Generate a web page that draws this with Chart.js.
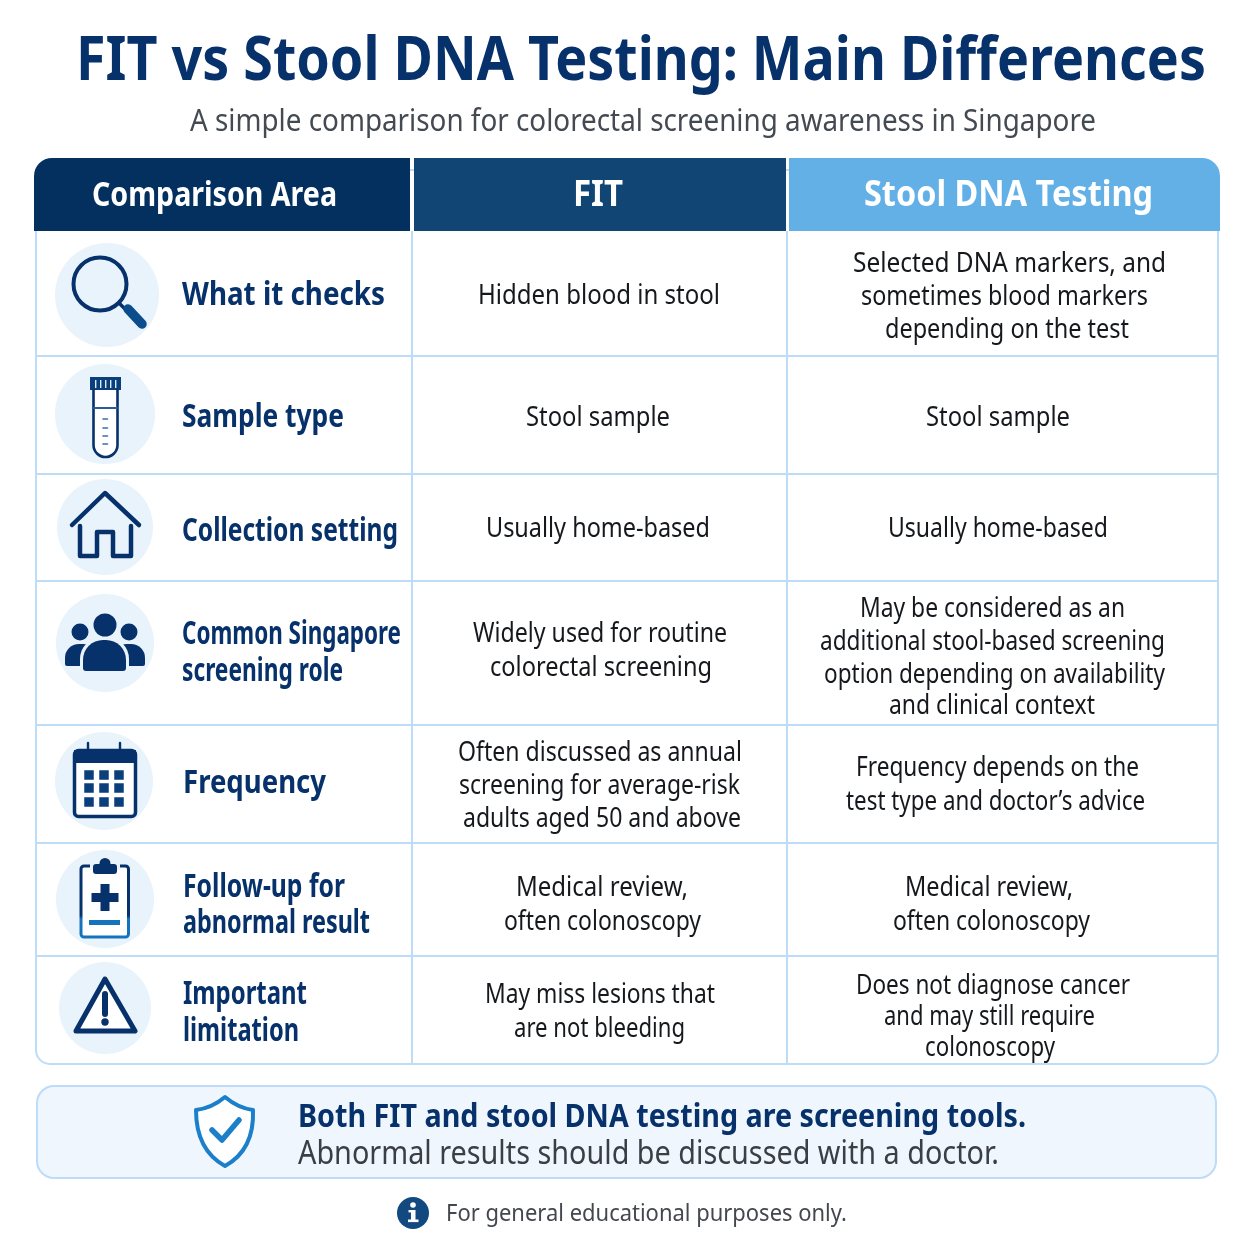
<!DOCTYPE html>
<html>
<head>
<meta charset="utf-8">
<title>FIT vs Stool DNA Testing</title>
<script src="https://cdn.jsdelivr.net/npm/chart.js@4"></script>
<style>
  html, body { margin: 0; padding: 0; background: #fff; }
  canvas { display: block; }
</style>
</head>
<body>
<canvas id="canvas" width="1254" height="1254"></canvas>
<script>
var chartTitle = "FIT vs Stool DNA Testing: Main Differences";
var chartSubtitle = "A simple comparison for colorectal screening awareness in Singapore";
var headers = ["Comparison Area", "FIT", "Stool DNA Testing"];
var areas = [
  ["What it checks"],
  ["Sample type"],
  ["Collection setting"],
  ["Common Singapore", "screening role"],
  ["Frequency"],
  ["Follow-up for", "abnormal result"],
  ["Important", "limitation"]
];
var fitCells = [
  ["Hidden blood in stool"],
  ["Stool sample"],
  ["Usually home-based"],
  ["Widely used for routine", "colorectal screening"],
  ["Often discussed as annual", "screening for average-risk", "adults aged 50 and above"],
  ["Medical review,", "often colonoscopy"],
  ["May miss lesions that", "are not bleeding"]
];
var dnaCells = [
  ["Selected DNA markers, and", "sometimes blood markers", "depending on the test"],
  ["Stool sample"],
  ["Usually home-based"],
  ["May be considered as an", "additional stool-based screening", "option depending on availability", "and clinical context"],
  ["Frequency depends on the", "test type and doctor\u2019s advice"],
  ["Medical review,", "often colonoscopy"],
  ["Does not diagnose cancer", "and may still require", "colonoscopy"]
];
var noteBold = "Both FIT and stool DNA testing are screening tools.";
var noteText = "Abnormal results should be discussed with a doctor.";
var footNote = "For general educational purposes only.";

// layout, in the 0-1254 units of the two hidden axes
var colEdges = [36, 412, 787, 1218];
var rowEdges = [231, 356, 474, 581, 725, 843, 956, 1064];
var areaLineY = [[294], [416], [530], [633, 670], [782], [886, 922], [993, 1030]];
var fitLineY = [[295], [417], [528], [633, 667], [752, 785, 818], [887, 921], [994, 1028]];
var dnaLineY = [[263, 296, 329], [417], [528], [608, 641, 674, 705], [767, 801], [887, 921], [985, 1016, 1047]];
var areaLineX = [182, 182, 182, 182, 183, 183, 183];
var fitCenterX = [[599], [598], [598], [600, 601], [600, 599.5, 602], [602, 602.5], [600, 599.5]];
var dnaCenterX = [[1009.5, 1004.5, 1007], [998], [998], [992.5, 992.5, 994.5, 992], [997.5, 995.5], [989, 991.5], [993, 989.5, 990]];
var areaWidths = [[203], [162], [216], [219, 161], [143], [162, 187], [124, 116]];
var fitWidths = [[242], [144], [224], [254, 222], [284, 281, 278], [172, 197], [230, 171]];
var dnaWidths = [[313, 287, 244], [144], [220], [265, 345, 341, 206], [283, 299], [168, 197], [274, 211, 130]];
var badges = [[107, 295, 52], [105, 414, 50], [105, 527, 48], [105, 643, 49], [104, 781, 49], [105, 899, 49], [105, 1008, 46]];

var NAVY = "#06316a";
var LINE = "#bcdcf8";
var FONT = '"Noto Sans"';
var TEXT_DROP = 2.5; // baseline "middle" sits a bit high for this font

var gridSets = [];
rowEdges.slice(1, -1).forEach(function (y) {
  gridSets.push({ data: [{ x: colEdges[0], y: y }, { x: colEdges[3], y: y }] });
});
colEdges.slice(1, 3).forEach(function (x) {
  gridSets.push({ data: [{ x: x, y: rowEdges[0] }, { x: x, y: rowEdges[7] }] });
});
gridSets.forEach(function (d) {
  d.showLine = true;
  d.borderColor = LINE;
  d.borderWidth = 2;
  d.pointRadius = 0;
});

function roundPath(ctx, x, y, w, h, tl, tr, br, bl) {
  ctx.beginPath();
  ctx.roundRect(x, y, w, h, [tl, tr, br, bl]);
}

// draws one line squeezed to the width it has in the reference
function text(ctx, s, x, y, font, color, align, width) {
  ctx.save();
  ctx.font = font;
  var sx = width / ctx.measureText(s).width;
  ctx.translate(x, y + TEXT_DROP);
  ctx.scale(sx, 1);
  ctx.fillStyle = color;
  ctx.textAlign = align;
  ctx.textBaseline = "middle";
  ctx.fillText(s, 0, 0);
  ctx.restore();
}

function line(ctx, pts, width, color, close) {
  ctx.beginPath();
  pts.forEach(function (p, i) {
    if (i === 0) ctx.moveTo(p[0], p[1]); else ctx.lineTo(p[0], p[1]);
  });
  if (close) ctx.closePath();
  ctx.lineWidth = width;
  ctx.strokeStyle = color;
  ctx.lineJoin = "round";
  ctx.lineCap = "round";
  ctx.stroke();
}

function dot(ctx, x, y, r, color) {
  ctx.beginPath();
  ctx.arc(x, y, r, 0, Math.PI * 2);
  ctx.fillStyle = color;
  ctx.fill();
}

function drawIcons(ctx) {
  // magnifier
  ctx.beginPath();
  ctx.arc(100, 284, 26.5, 0, Math.PI * 2);
  ctx.lineWidth = 4;
  ctx.strokeStyle = NAVY;
  ctx.stroke();
  line(ctx, [[119, 303], [126, 310]], 3.5, NAVY);
  line(ctx, [[128, 309], [142, 324]], 9.5, "#0b4c8c");

  // test tube
  ctx.fillStyle = "#0b3f7c";
  ctx.fillRect(90, 377, 31, 13);
  ctx.fillStyle = "#dcecfa";
  [95, 100, 105, 110, 115].forEach(function (x) { ctx.fillRect(x, 380, 1.4, 8); });
  ctx.beginPath();
  ctx.moveTo(93.5, 390);
  ctx.lineTo(93.5, 445);
  ctx.arc(105.5, 445, 12, Math.PI, 0, true);
  ctx.lineTo(117.5, 390);
  ctx.fillStyle = "#fff";
  ctx.fill();
  ctx.lineWidth = 2.6;
  ctx.strokeStyle = NAVY;
  ctx.stroke();
  line(ctx, [[94, 408], [117, 408]], 2, "#2c5d98");
  [419, 428, 436, 444].forEach(function (y) {
    line(ctx, [[103, y], [107.5, y]], 1.6, "#3f6ea8");
  });

  // house
  line(ctx, [[72, 525], [105, 493], [139, 525]], 4.5, NAVY);
  line(ctx, [[80, 526], [80, 556], [97, 556], [97, 532], [113, 532], [113, 556], [131, 556], [131, 526]], 4.5, NAVY);

  // people
  dot(ctx, 80, 632, 8.5, NAVY);
  dot(ctx, 129, 632, 8.5, NAVY);
  dot(ctx, 105, 625, 11.5, NAVY);
  roundPath(ctx, 65, 644, 32, 22, 14, 14, 2, 2);
  ctx.fillStyle = NAVY; ctx.fill();
  roundPath(ctx, 113, 644, 32, 22, 14, 14, 2, 2);
  ctx.fill();
  roundPath(ctx, 80, 637, 49, 37, 22, 22, 3, 3);
  ctx.fillStyle = "#e8f3fc"; ctx.fill();
  roundPath(ctx, 83, 640, 43, 31, 20, 20, 3, 3);
  ctx.fillStyle = NAVY; ctx.fill();

  // calendar
  roundPath(ctx, 74.5, 750.5, 61, 66, 4, 4, 4, 4);
  ctx.fillStyle = "#fff"; ctx.fill();
  ctx.lineWidth = 3.5; ctx.strokeStyle = NAVY; ctx.stroke();
  ctx.fillStyle = NAVY;
  ctx.fillRect(74, 750, 62, 13);
  line(ctx, [[88, 743], [88, 754]], 2.4, NAVY);
  line(ctx, [[120, 743], [120, 754]], 2.4, NAVY);
  ctx.fillStyle = "#0b3f7c";
  [89, 104, 119].forEach(function (x) {
    [775, 788, 802].forEach(function (y) {
      ctx.fillRect(x - 4.75, y - 4.75, 9.5, 9.5);
    });
  });

  // clipboard
  var cb = ctx.createLinearGradient(0, 865, 0, 937);
  cb.addColorStop(0, NAVY);
  cb.addColorStop(0.7, NAVY);
  cb.addColorStop(0.75, "#1573bd");
  cb.addColorStop(1, "#1573bd");
  roundPath(ctx, 81, 866, 47.5, 71, 3, 3, 3, 3);
  ctx.fillStyle = "#fff"; ctx.fill();
  ctx.lineWidth = 3; ctx.strokeStyle = cb; ctx.stroke();
  ctx.fillStyle = "#e8f3fc";
  ctx.fillRect(90, 862, 30, 8);
  roundPath(ctx, 93, 864, 24, 10, 3, 3, 3, 3);
  ctx.fillStyle = NAVY; ctx.fill();
  dot(ctx, 105, 863.5, 5.5, NAVY);
  ctx.fillStyle = NAVY;
  ctx.fillRect(100.5, 884, 9, 27);
  ctx.fillRect(91.5, 893, 27, 9);
  ctx.fillStyle = "#1573bd";
  ctx.fillRect(89, 920, 31, 5);

  // warning triangle
  ctx.beginPath();
  ctx.moveTo(105, 979);
  ctx.lineTo(135, 1031);
  ctx.lineTo(76, 1031);
  ctx.closePath();
  ctx.fillStyle = "#fff"; ctx.fill();
  line(ctx, [[105, 979], [135, 1031], [76, 1031]], 5, NAVY, true);
  line(ctx, [[105, 994], [105, 1014]], 6, NAVY);
  dot(ctx, 105, 1022, 3.7, NAVY);

  // shield
  ctx.beginPath();
  ctx.moveTo(225, 1097);
  ctx.quadraticCurveTo(238, 1108, 253, 1110);
  ctx.bezierCurveTo(254, 1135, 245, 1155, 225, 1166);
  ctx.bezierCurveTo(205, 1155, 196, 1135, 196, 1110);
  ctx.quadraticCurveTo(212, 1108, 225, 1097);
  ctx.closePath();
  ctx.fillStyle = "#fff"; ctx.fill();
  ctx.lineWidth = 4; ctx.lineJoin = "round"; ctx.strokeStyle = "#1b7fc9"; ctx.stroke();
  line(ctx, [[212, 1130], [222, 1140], [239, 1120]], 5.5, "#1b7fc9");

  // info dot
  dot(ctx, 413, 1213, 16, "#124a80");
  dot(ctx, 413, 1205, 2.8, "#fff");
  ctx.fillStyle = "#fff";
  ctx.fillRect(411, 1210, 4.5, 11);
  ctx.fillRect(408.5, 1210, 5, 2.4);
  ctx.fillRect(408, 1219.5, 10.5, 2.6);
}

var backdrop = {
  id: "backdrop",
  beforeDatasetsDraw: function (chart) {
    var ctx = chart.ctx;
    ctx.save();
    // body frame
    roundPath(ctx, colEdges[0], 170, colEdges[3] - colEdges[0], rowEdges[7] - 170, 0, 0, 14, 14);
    ctx.fillStyle = "#fff"; ctx.fill();
    ctx.lineWidth = 2; ctx.strokeStyle = LINE; ctx.stroke();
    // header band
    roundPath(ctx, 34, 158, 376, 73, 18, 0, 0, 0);
    ctx.fillStyle = "#03305f"; ctx.fill();
    ctx.fillStyle = "#114674";
    ctx.fillRect(414, 158, 372, 73);
    roundPath(ctx, 789, 158, 431, 73, 0, 18, 0, 0);
    ctx.fillStyle = "#62b0e6"; ctx.fill();
    // note box
    roundPath(ctx, 37, 1086, 1179, 92, 17, 17, 17, 17);
    ctx.fillStyle = "#eff6fd"; ctx.fill();
    ctx.lineWidth = 2; ctx.strokeStyle = "#bcdcf8"; ctx.stroke();
    ctx.restore();
  },
  afterDatasetsDraw: function (chart) {
    var ctx = chart.ctx;
    var X = chart.scales.x, Y = chart.scales.y;
    ctx.save();
    badges.forEach(function (b) {
      dot(ctx, X.getPixelForValue(b[0]), Y.getPixelForValue(b[1]), b[2], "#e8f3fc");
    });
    drawIcons(ctx);

    text(ctx, chartTitle, 641, 60, "bold 61px " + FONT, NAVY, "center", 1130);
    text(ctx, chartSubtitle, 643, 120, "31px " + FONT, "#444a52", "center", 906);
    text(ctx, headers[0], 214.5, 194, "bold 34px " + FONT, "#fff", "center", 245);
    text(ctx, headers[1], 598, 194, "bold 35px " + FONT, "#fff", "center", 50);
    text(ctx, headers[2], 1008.5, 194, "bold 35px " + FONT, "#fff", "center", 289);

    areas.forEach(function (lines, r) {
      lines.forEach(function (s, i) {
        text(ctx, s, X.getPixelForValue(areaLineX[r]), Y.getPixelForValue(areaLineY[r][i]) - 1, "bold 32px " + FONT, NAVY, "left", areaWidths[r][i]);
      });
    });
    fitCells.forEach(function (lines, r) {
      lines.forEach(function (s, i) {
        text(ctx, s, X.getPixelForValue(fitCenterX[r][i]), Y.getPixelForValue(fitLineY[r][i]) - 1, "28px " + FONT, "#15181c", "center", fitWidths[r][i]);
      });
    });
    dnaCells.forEach(function (lines, r) {
      lines.forEach(function (s, i) {
        text(ctx, s, X.getPixelForValue(dnaCenterX[r][i]), Y.getPixelForValue(dnaLineY[r][i]) - 1, "28px " + FONT, "#15181c", "center", dnaWidths[r][i]);
      });
    });

    text(ctx, noteBold, 298, 1115, "bold 32px " + FONT, NAVY, "left", 728);
    text(ctx, noteText, 298, 1152, "32px " + FONT, "#3b3f45", "left", 701);
    text(ctx, footNote, 446, 1212, "24px " + FONT, "#44484e", "left", 401);
    ctx.restore();
  }
};

new Chart(document.getElementById("canvas").getContext("2d"), {
  type: "scatter",
  data: { datasets: gridSets },
  options: {
    responsive: false,
    animation: false,
    devicePixelRatio: 1,
    layout: { padding: 0 },
    plugins: { legend: { display: false }, tooltip: { enabled: false } },
    scales: {
      x: { type: "linear", min: 0, max: 1254, display: false },
      y: { type: "linear", min: 0, max: 1254, reverse: true, display: false }
    }
  },
  plugins: [backdrop]
});
</script>
</body>
</html>
